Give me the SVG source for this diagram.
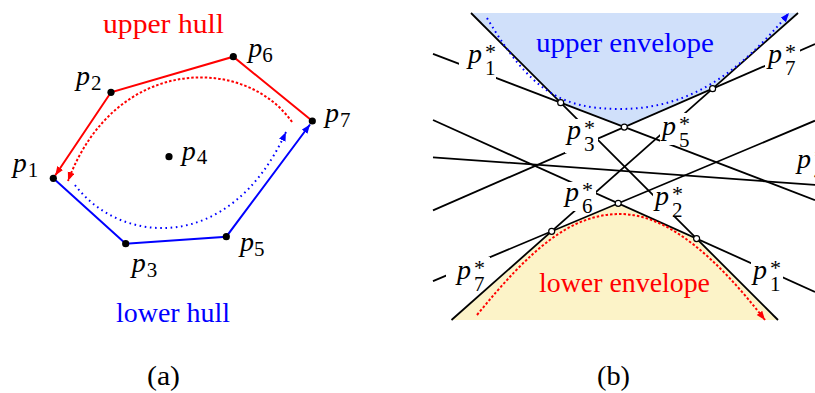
<svg xmlns="http://www.w3.org/2000/svg" width="815" height="393" viewBox="0 0 815 393">
<style>
  text { font-family: "Liberation Serif", "Times New Roman", serif; fill: #000; }
  .m { font-size: 28px; font-style: italic; }
  .s { font-size: 21px; font-style: normal; }
  .st { font-size: 22px; font-style: normal; }
  .t { font-size: 27px; }
  .red { fill: #ff0000; }
  .blue { fill: #0000ff; }
  .bg { fill: #ffffff; stroke: none; }
  .hr { fill: none; stroke: #ff0000; stroke-width: 2; }
  .hb { fill: none; stroke: #0000ff; stroke-width: 2; }
  .dr { fill: none; stroke: #ff0000; stroke-width: 2; stroke-dasharray: 2.5 2; }
  .db { fill: none; stroke: #0000ff; stroke-width: 2; stroke-dasharray: 1.6 3.6; }
  .ln { fill: none; stroke: #000; stroke-width: 1.8; }
  .pt { fill: #000; }
  .vx { fill: #fff; stroke: #000; stroke-width: 1.2; }
</style>
<defs>
  <marker id="ar" markerUnits="userSpaceOnUse" markerWidth="10" markerHeight="8" refX="9" refY="3.5" orient="auto">
    <path d="M0,0 L9,3.5 L0,7 z" fill="#ff0000"/>
  </marker>
  <marker id="ab" markerUnits="userSpaceOnUse" markerWidth="10" markerHeight="8" refX="9" refY="3.5" orient="auto">
    <path d="M0,0 L9,3.5 L0,7 z" fill="#0000ff"/>
  </marker>
</defs>

<!-- Panel (a) -->
<g id="connectors-a">
  <polyline class="hr" points="312.3,121 233.3,56.7 111,92.3 55.2,175.5" marker-end="url(#ar)"/>
  <polyline class="hb" points="53.3,178.3 125.7,243.7 226.3,236.7 310,124.5" marker-end="url(#ab)"/>
  <path class="dr" d="M292,122 C245,55 115,55 68,181" marker-end="url(#ar)"/>
  <path class="db" d="M75,185 C120,245 230,255 286,132" marker-end="url(#ab)"/>
</g>
<g id="p1"><circle class="pt" cx="53.3" cy="178.3" r="3.6"/><text class="m" x="12.7" y="172">p<tspan class="s" dx="1" dy="5">1</tspan></text></g>
<g id="p2"><circle class="pt" cx="111" cy="92.3" r="3.6"/><text class="m" x="76" y="85">p<tspan class="s" dx="1" dy="5">2</tspan></text></g>
<g id="p6"><circle class="pt" cx="233.3" cy="56.7" r="3.6"/><text class="m" x="248.3" y="56.5">p<tspan class="s" dx="0" dy="5">6</tspan></text></g>
<g id="p7"><circle class="pt" cx="312.3" cy="121" r="3.6"/><text class="m" x="325" y="121.5">p<tspan class="s" dx="1" dy="5">7</tspan></text></g>
<g id="p4"><circle class="pt" cx="169" cy="156.7" r="3.6"/><text class="m" x="181.7" y="160">p<tspan class="s" dx="1" dy="4">4</tspan></text></g>
<g id="p3"><circle class="pt" cx="125.7" cy="243.7" r="3.6"/><text class="m" x="131.7" y="272">p<tspan class="s" dx="1" dy="5">3</tspan></text></g>
<g id="p5"><circle class="pt" cx="226.3" cy="236.7" r="3.6"/><text class="m" x="240" y="251">p<tspan class="s" dx="0" dy="5">5</tspan></text></g>
<g id="captions-a">
  <text class="t red" x="103" y="33" textLength="121" lengthAdjust="spacingAndGlyphs">upper hull</text>
  <text class="t blue" x="116" y="322" textLength="114" lengthAdjust="spacingAndGlyphs">lower hull</text>
  <text class="t" x="147" y="385" textLength="33" lengthAdjust="spacingAndGlyphs">(a)</text>
</g>

<!-- Panel (b) -->
<g id="regions-b">
  <polygon points="471,13 560.7,102.7 624.3,127.1 712.6,88.7 798,13" fill="#d0e0fa"/>
  <polygon points="451.5,320 551.7,231.3 618.2,203.3 696.6,238.6 778,320" fill="#fcf3c8"/>
</g>
<g id="connectors-b">
  <line class="ln" x1="471" y1="13" x2="778" y2="320"/>
  <line class="ln" x1="798" y1="13" x2="451.5" y2="320"/>
  <line class="ln" x1="433" y1="53.8" x2="815" y2="200.1"/>
  <line class="ln" x1="433" y1="210.3" x2="815" y2="44.1"/>
  <line class="ln" x1="433" y1="281.1" x2="815" y2="120.7"/>
  <line class="ln" x1="433" y1="120" x2="815" y2="291.9"/>
  <line class="ln" x1="433" y1="157.3" x2="815" y2="184.9"/>
  <path class="db" d="M487,18 C530,90 560,109 620,109 C690,109 740,72 789,13" marker-end="url(#ab)"/>
  <path class="dr" d="M477,315 C530,250 570,214 620,214 C670,214 720,262 765,320" marker-end="url(#ar)"/>
</g>
<g id="vertices-b">
  <circle class="vx" cx="560.7" cy="102.7" r="3"/>
  <circle class="vx" cx="624.3" cy="127.1" r="3"/>
  <circle class="vx" cx="712.6" cy="88.7" r="3"/>
  <circle class="vx" cx="551.7" cy="231.3" r="3"/>
  <circle class="vx" cx="618.2" cy="203.3" r="3"/>
  <circle class="vx" cx="696.6" cy="238.6" r="3"/>
</g>
<g id="q1a"><rect class="bg" x="459" y="42" width="37" height="38"/><text class="m" x="468" y="63">p</text><text class="st" x="485" y="59">*</text><text class="s" x="485" y="75">1</text></g>
<g id="q7a"><rect class="bg" x="765" y="44" width="35" height="36"/><text class="m" x="768" y="63">p</text><text class="st" x="785" y="59">*</text><text class="s" x="785" y="75">7</text></g>
<g id="q3"><rect class="bg" x="565" y="119" width="33" height="34"/><text class="m" x="567" y="139">p</text><text class="st" x="584" y="135">*</text><text class="s" x="584" y="151">3</text></g>
<g id="q5"><rect class="bg" x="660" y="113" width="30" height="32"/><text class="m" x="662" y="134.5">p</text><text class="st" x="679" y="130.5">*</text><text class="s" x="679" y="146.5">5</text></g>
<g id="q6"><rect class="bg" x="565" y="182" width="31" height="29"/><text class="m" x="565" y="201">p</text><text class="st" x="582" y="197">*</text><text class="s" x="582" y="213">6</text></g>
<g id="q2"><rect class="bg" x="653" y="190" width="31" height="26"/><text class="m" x="655" y="204.7">p</text><text class="st" x="672" y="200.7">*</text><text class="s" x="672" y="216.7">2</text></g>
<g id="q7b"><rect class="bg" x="446" y="257" width="44" height="27"/><text class="m" x="457" y="279">p</text><text class="st" x="474" y="275">*</text><text class="s" x="474" y="291">7</text></g>
<g id="q1b"><rect class="bg" x="751" y="258" width="32" height="34"/><text class="m" x="753" y="279">p</text><text class="st" x="770" y="275">*</text><text class="s" x="770" y="291">1</text></g>
<g id="q4"><text class="m" x="797" y="168">p</text><text class="st" x="814" y="164">*</text><text class="s" x="814" y="180">4</text></g>
<g id="captions-b">
  <text class="t blue" x="536" y="52" textLength="178" lengthAdjust="spacingAndGlyphs">upper envelope</text>
  <text class="t red" x="539" y="292" textLength="171" lengthAdjust="spacingAndGlyphs">lower envelope</text>
  <text class="t" x="597" y="385" textLength="33" lengthAdjust="spacingAndGlyphs">(b)</text>
</g>
</svg>
